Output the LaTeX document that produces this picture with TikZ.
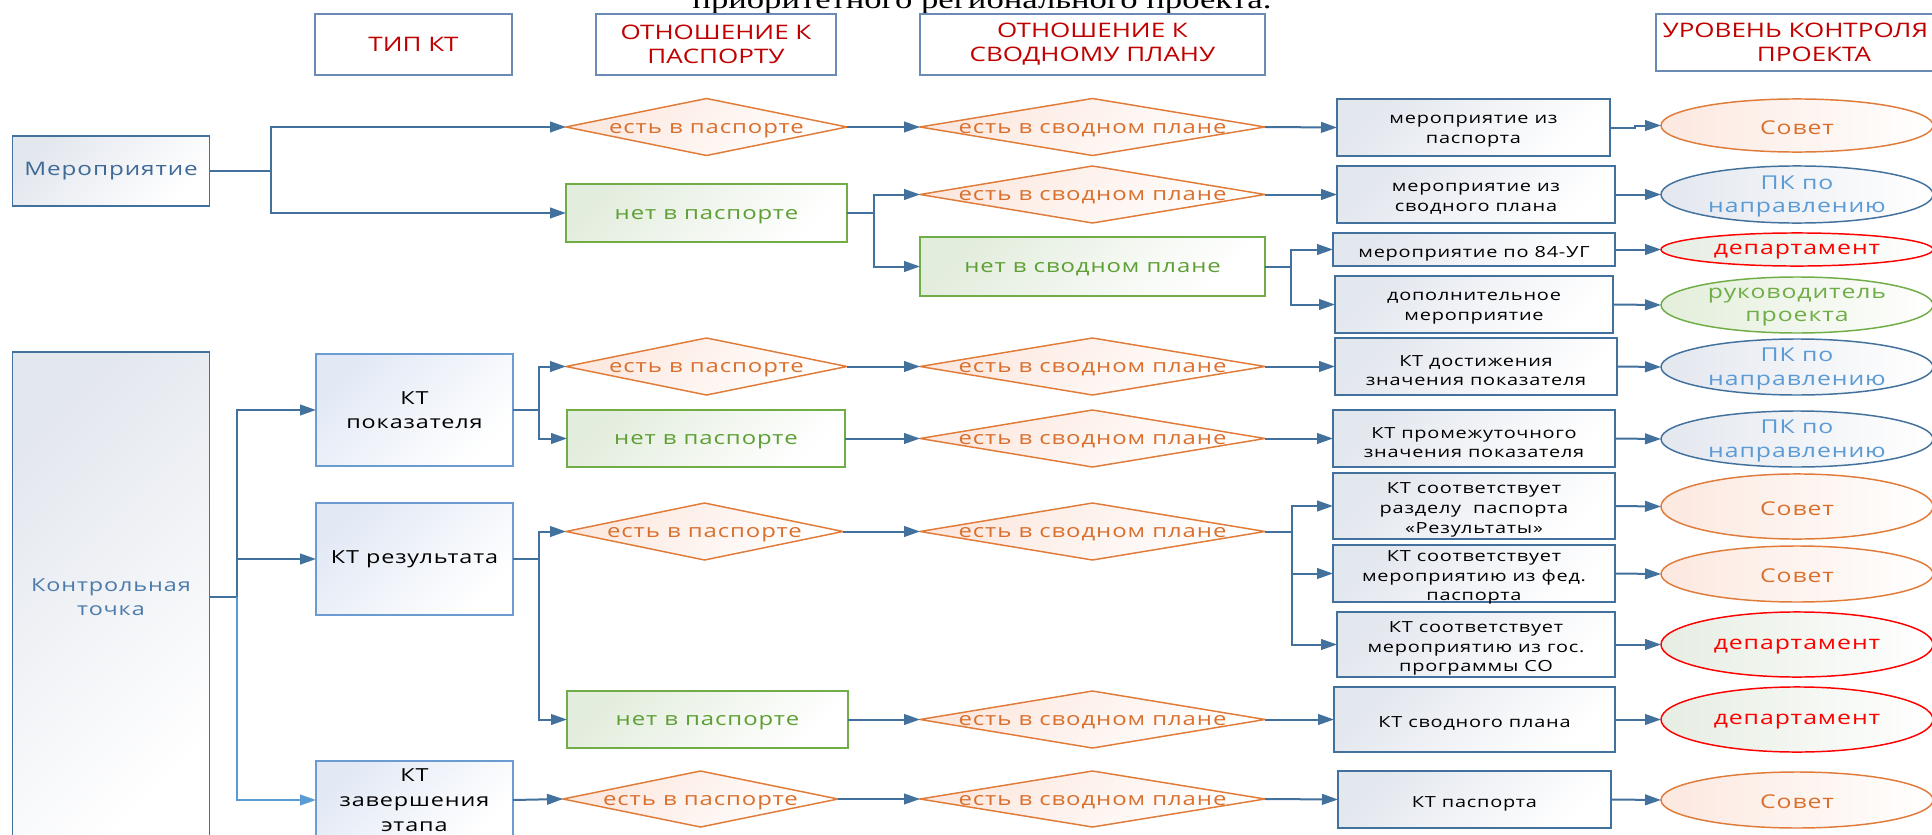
\documentclass[tikz,border=0pt]{standalone}
\usepackage{fontspec}
\setmainfont{Open Sans}[FakeStretch=1.3, LetterSpace=5]
\newfontfamily\hfont{Open Sans}[FakeStretch=1.3]
\newfontfamily\titlefont{Liberation Serif}[FakeStretch=1.3]
\usetikzlibrary{arrows.meta}
\definecolor{cblue}{HTML}{41719C}
\definecolor{lblue}{HTML}{5B9BD5}
\definecolor{hdrc}{HTML}{6A8CB4}
\definecolor{hred}{HTML}{C00000}
\definecolor{ktb}{HTML}{6A9BD1}
\definecolor{org}{HTML}{E07B39}
\definecolor{orgt}{HTML}{D9702E}
\definecolor{grn}{HTML}{70AD47}
\definecolor{grnt}{HTML}{5E9F35}
\definecolor{boxg}{HTML}{E3E7EE}
\definecolor{ktg}{HTML}{E2E9F5}
\definecolor{diag}{HTML}{FCE8DF}
\definecolor{gfill}{HTML}{E3EDDD}
\definecolor{merc}{HTML}{3F6A96}
\definecolor{ktc}{HTML}{4C7BAA}
\definecolor{pkt}{HTML}{5B9BD5}
\definecolor{dep}{HTML}{FF0000}
\definecolor{depf}{HTML}{E6EDE2}
\definecolor{rukf}{HTML}{E3EEDA}
\tikzset{
  sz/.style n args={2}{minimum width=#1*0.75pt, minimum height=#2*0.75pt},
  conn/.style={draw=cblue, line width=1.5pt},
  lconn/.style={draw=lblue, line width=1.5pt},
  arr/.style={-{Triangle[length=12pt,width=8pt]}},
  hdr/.style={draw=hdrc, line width=1.1pt, align=center, text=hred,
    font=\hfont\fontsize{15}{18}\selectfont, inner sep=0pt, outer sep=0pt},
  mbox/.style={draw=cblue, line width=1.1pt, top color=boxg, bottom color=white, shading angle=45,
    align=center, text=merc, font=\fontsize{14}{17.5}\selectfont, inner sep=0pt, outer sep=0pt},
  ktbox/.style={draw=ktb, line width=1.1pt, top color=ktg, bottom color=white, shading angle=45,
    align=center, text=black, font=\fontsize{13.5}{17.8}\selectfont, inner sep=0pt, outer sep=0pt},
  bbox/.style={draw=cblue, line width=1.1pt, top color=boxg, bottom color=white, shading angle=45,
    inner sep=0pt, outer sep=0pt},
  btext/.style={align=center, text=black, font=\fontsize{11.5}{14.8}\selectfont, inner sep=0pt, outer sep=0pt},
  gbox/.style={draw=grn, line width=1.1pt, top color=gfill, bottom color=white, shading angle=45,
    text=grnt, font=\fontsize{13.8}{17}\selectfont, text height=12.3pt, text depth=2.8pt,
    inner sep=0pt, outer sep=0pt},
  diash/.style={draw=org, line width=1.1pt, top color=diag, bottom color=white, shading angle=45},
  dtext/.style={text=orgt, font=\fontsize{13.8}{17}\selectfont, text height=12.3pt, text depth=2.8pt,
    inner sep=0pt, outer sep=0pt},
  eanc/.style={minimum width=204pt, minimum height=20pt, inner sep=0pt, outer sep=0pt},
  etext/.style={align=center, font=\fontsize{14.3}{17.3}\selectfont, inner sep=0pt, outer sep=0pt},
  esov/.style={draw=org, line width=1.1pt, left color=diag, right color=white},
  epk/.style={draw=cblue, line width=1.1pt, left color=boxg, right color=white},
  edep/.style={draw=dep, line width=1.1pt, left color=depf, right color=white},
  eruk/.style={draw=grn, line width=1.1pt, left color=rukf, right color=white},
}
\newcommand\mydia[6]{%
  \shadedraw[diash] ({#2-#4/2},#3) -- (#2,{#3-#5/2}) -- ({#2+#4/2},#3) -- (#2,{#3+#5/2}) -- cycle;
  \node[dtext, sz={#4}{#5}] (#1) at (#2,#3) {#6};}
\newcommand\myell[7]{%
  \shadedraw[#6] (#2,#3) ellipse [x radius=102pt, y radius=#4pt];
  \node[eanc] (#1) at (#2,#3) {};
  \node[etext, #5] (#1t) at ([yshift=-1.5pt]#1.center) {#7};}
\newcommand\mybox[6]{%
  \node[bbox, sz={#4}{#5}] (#1) at (#2,#3) {};
  \node[btext] (#1t) at ([yshift=-3pt]#1.center) {#6};}
\begin{document}
\begin{tikzpicture}[x=0.75pt,y=-0.75pt]
\clip (0,0) rectangle (1932,835);
\fill[white] (0,0) rectangle (1932,835);

% title (cut off at the top, as in the reference)
\node[anchor=base, inner sep=0pt, font=\titlefont\fontsize{20}{24}\selectfont] (title) at (982,8) {приоритетного регионального проекта.};

% headers
\node[hdr, sz={197}{61}] (h1) at (413.5,44.5) {ТИП КТ};
\node[hdr, sz={240}{61}] (h2) at (716,44.5) {ОТНОШЕНИЕ К\\ПАСПОРТУ};
\node[hdr, sz={345}{61}] (h3) at (1092.5,44.5) {ОТНОШЕНИЕ К\\СВОДНОМУ ПЛАНУ};
\node[hdr, sz={316}{57}] (h4) at (1814,42.5) {УРОВЕНЬ КОНТРОЛЯ\hspace*{28pt}\\ПРОЕКТА};

% column 1
\node[mbox, sz={197}{70}] (mer) at (111,171) {Мероприятие};
\node[mbox, sz={197}{490}, text=ktc, font=\fontsize{13.5}{17.5}\selectfont] (kt) at (111,597) {Контрольная\\точка};

% column 2
\node[ktbox, sz={197}{112}] (ktp) at (414.5,410) {КТ\\показателя};
\node[ktbox, sz={197}{112}] (ktr) at (414.5,559) {КТ результата};
\node[ktbox, sz={197}{78}, font=\fontsize{13.5}{19}\selectfont] (ktz) at (414.5,800) {КТ\\завершения\\этапа};

% column 3
\mydia{d1}{706.5}{127}{281}{57}{есть в паспорте}
\node[gbox, sz={281}{58}] (g1) at (706.5,213) {нет в паспорте};
\mydia{d3}{706.5}{366.5}{281}{57}{есть в паспорте}
\node[gbox, sz={278}{57}] (g4) at (706,438.5) {нет в паспорте};
\mydia{d5}{704.5}{531.5}{277}{57}{есть в паспорте}
\node[gbox, sz={281}{57}] (g6) at (707.5,719.5) {нет в паспорте};
\mydia{d7}{700.5}{799}{275}{56}{есть в паспорте}

% column 4
\mydia{s1}{1092.5}{127}{345}{57}{есть в сводном плане}
\mydia{s2}{1092.5}{194.5}{345}{57}{есть в сводном плане}
\node[gbox, sz={345}{59}] (gs) at (1092.5,266.5) {нет в сводном плане};
\mydia{s3}{1092.5}{366.5}{345}{57}{есть в сводном плане}
\mydia{s4}{1092.5}{438.5}{345}{57}{есть в сводном плане}
\mydia{s5}{1092.5}{531.5}{345}{57}{есть в сводном плане}
\mydia{s6}{1092.5}{719.5}{345}{57}{есть в сводном плане}
\mydia{s7}{1092.5}{799}{345}{56}{есть в сводном плане}

% column 5
\mybox{b1}{1473.5}{127.5}{273}{57}{мероприятие из\\паспорта}
\mybox{b2}{1476}{194.5}{278}{57}{мероприятие из\\сводного плана}
\mybox{b3}{1474}{249.5}{282}{33}{мероприятие по 84-УГ}
\mybox{b4}{1474}{304.5}{278}{57}{дополнительное\\мероприятие}
\mybox{b5}{1476}{366.5}{282}{57}{КТ достижения\\значения показателя}
\mybox{b6}{1474}{438.5}{282}{57}{КТ промежуточного\\значения показателя}
\mybox{b7}{1474}{506}{282}{66}{КТ соответствует\\разделу\ \ паспорта\\«Результаты»}
\mybox{b8}{1474}{573.5}{282}{57}{КТ соответствует\\мероприятию из фед.\\паспорта}
\mybox{b9}{1476}{644.5}{278}{65}{КТ соответствует\\мероприятию из гос.\\программы СО}
\mybox{b10}{1474.5}{719.5}{281}{65}{КТ сводного плана}
\mybox{b11}{1474.5}{799.5}{273}{57}{КТ паспорта}

% column 6
\myell{e1}{1797}{125.5}{19.9}{text=orgt}{esov}{Совет}
\myell{e2}{1797}{194.5}{21.4}{text=pkt}{epk}{ПК по\\направлению}
\myell{e3}{1797}{249.5}{12.4}{text=dep}{edep}{департамент}
\myell{e4}{1797}{305}{21}{text=grn}{eruk}{руководитель\\проекта}
\myell{e5}{1797}{367}{21}{text=pkt}{epk}{ПК по\\направлению}
\myell{e6}{1797}{439}{21}{text=pkt}{epk}{ПК по\\направлению}
\myell{e7}{1797}{506.5}{24.4}{text=orgt}{esov}{Совет}
\myell{e8}{1797}{574}{21}{text=orgt}{esov}{Совет}
\myell{e9}{1797}{644.5}{24.4}{text=dep}{edep}{департамент}
\myell{e10}{1797}{719.5}{24.4}{text=dep}{edep}{департамент}
\myell{e11}{1797}{800}{21}{text=orgt}{esov}{Совет}

% connectors: Мероприятие
\coordinate (j1) at (271,171);
\draw[conn] (mer.east) -- (j1);
\draw[conn,arr] (j1) |- (d1.west);
\draw[conn,arr] (j1) |- (g1.west);
\draw[conn,arr] (d1.east) -- (s1.west);
\draw[conn,arr] (s1.east) -- (b1.west);
\coordinate (j1b) at (1635,127.5);
\draw[conn,arr] (b1.east) -- (j1b) |- (e1.west);
\coordinate (j2) at (874,213);
\draw[conn] (g1.east) -- (j2);
\draw[conn,arr] (j2) |- (s2.west);
\draw[conn,arr] (j2) |- (gs.west);
\draw[conn,arr] (s2.east) -- (b2.west);
\draw[conn,arr] (b2.east) -- (e2.west);
\coordinate (j3) at (1291,266.5);
\draw[conn] (gs.east) -- (j3);
\draw[conn,arr] (j3) |- (b3.west);
\draw[conn,arr] (j3) |- (b4.west);
\draw[conn,arr] (b3.east) -- (e3.west);
\draw[conn,arr] (b4.east) -- (e4.west);

% connectors: Контрольная точка
\coordinate (j4) at (237,597);
\draw[conn] (kt.east) -- (j4);
\draw[conn,arr] (j4) |- (ktp.west);
\draw[conn,arr] (j4) |- (ktr.west);
\draw[lconn,arr] (j4) |- (ktz.west);

\coordinate (j5) at (539,410);
\draw[conn] (ktp.east) -- (j5);
\draw[conn,arr] (j5) |- (d3.west);
\draw[conn,arr] (j5) |- (g4.west);
\draw[conn,arr] (d3.east) -- (s3.west);
\draw[conn,arr] (s3.east) -- (b5.west);
\draw[conn,arr] (b5.east) -- (e5.west);
\draw[conn,arr] (g4.east) -- (s4.west);
\draw[conn,arr] (s4.east) -- (b6.west);
\draw[conn,arr] (b6.east) -- (e6.west);

\coordinate (j6) at (539,559);
\draw[conn] (ktr.east) -- (j6);
\draw[conn,arr] (j6) |- (d5.west);
\draw[conn,arr] (j6) |- (g6.west);
\draw[conn,arr] (d5.east) -- (s5.west);
\coordinate (j7) at (1292,531.5);
\draw[conn] (s5.east) -- (j7);
\draw[conn,arr] (j7) |- (b7.west);
\draw[conn,arr] (j7) |- (b8.west);
\draw[conn,arr] (j7) |- (b9.west);
\draw[conn,arr] (b7.east) -- (e7.west);
\draw[conn,arr] (b8.east) -- (e8.west);
\draw[conn,arr] (b9.east) -- (e9.west);
\draw[conn,arr] (g6.east) -- (s6.west);
\draw[conn,arr] (s6.east) -- (b10.west);
\draw[conn,arr] (b10.east) -- (e10.west);

\draw[conn,arr] (ktz.east) -- (d7.west);
\draw[conn,arr] (d7.east) -- (s7.west);
\draw[conn,arr] (s7.east) -- (b11.west);
\draw[conn,arr] (b11.east) -- (e11.west);
\end{tikzpicture}
\end{document}
